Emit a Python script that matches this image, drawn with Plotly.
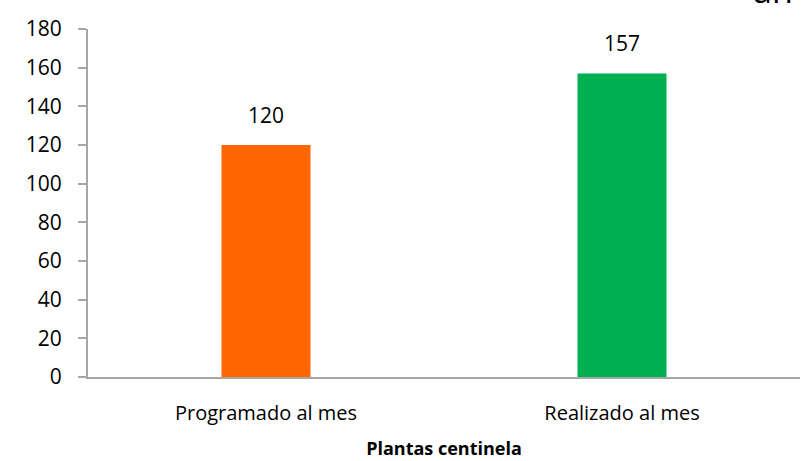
import plotly.graph_objects as go

categories = ["Programado al mes", "Realizado al mes"]
values = [120, 157]
colors = ["#FF6600", "#00B050"]
y_ticks = [0, 20, 40, 60, 80, 100, 120, 140, 160, 180]
x_title = "Plantas centinela"
clipped_title = "an"

FONT = "Open Sans"

fig = go.Figure()
fig.add_trace(go.Bar(
    x=categories, y=values, marker_color=colors, width=0.25,
    marker_line_width=0, showlegend=False, hoverinfo="skip",
))

for c, v in zip(categories, values):
    fig.add_annotation(x=c, y=v, text=str(v), showarrow=False,
                       yanchor="bottom", yshift=14,
                       font=dict(family=FONT, size=21, color="#000000"))

# partly clipped title text at the top-right edge
fig.add_annotation(xref="paper", yref="paper", x=0.993, y=1.113,
                   xanchor="right", yanchor="middle", text=clipped_title,
                   showarrow=False, font=dict(family=FONT, size=34, color="#000000"))

fig.update_layout(
    width=805, height=461,
    margin=dict(l=88, r=5, t=29, b=84, autoexpand=False),
    paper_bgcolor="white", plot_bgcolor="white",
    font=dict(family=FONT, size=20, color="#000000"),
    bargap=0.75,
)
fig.update_xaxes(
    showline=True, linecolor="#A6A6A6", linewidth=2, ticks="",
    showgrid=False, tickfont=dict(family=FONT, size=20), automargin=False,
    ticklabelstandoff=17,
    title=dict(text="<b>" + x_title + "</b>", font=dict(family=FONT, size=18), standoff=17),
)
fig.update_yaxes(
    range=[0, 180], tickvals=y_ticks, showline=True, linecolor="#A6A6A6", linewidth=2,
    ticks="outside", ticklen=8, tickcolor="#A6A6A6", tickwidth=1.5, automargin=False,
    ticklabelstandoff=12,
    showgrid=False, zeroline=False, tickfont=dict(family=FONT, size=21),
)

fig.write_html("out.html", config={"displayModeBar": False},
               post_script="document.body.style.margin='0';")
